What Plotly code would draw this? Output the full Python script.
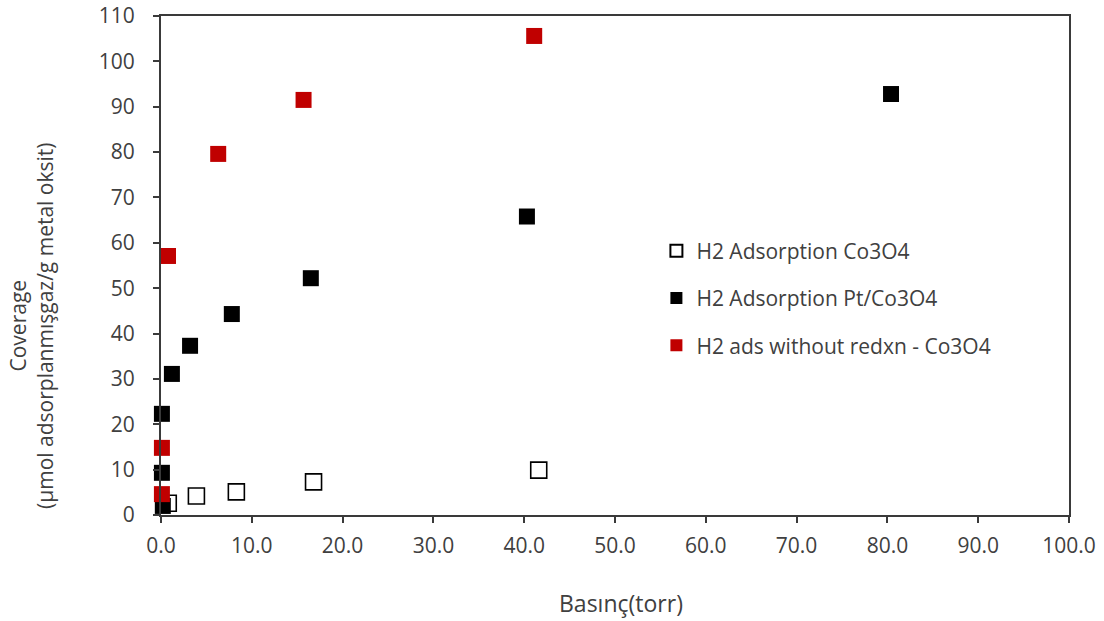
import plotly.graph_objects as go

# Pressure (torr) and H2 coverage (µmol adsorbed gas / g metal oxide)
co3o4_x = [0.8, 3.9, 8.3, 16.8, 41.6]
co3o4_y = [2.6, 4.2, 5.1, 7.3, 9.9]

pt_co3o4_x = [0.2, 0.1, 0.1, 1.2, 3.2, 7.8, 16.5, 40.3, 80.4]
pt_co3o4_y = [2.0, 9.3, 22.3, 31.1, 37.3, 44.3, 52.2, 65.8, 92.8]

noredxn_x = [0.1, 0.1, 0.77, 6.3, 15.7, 41.1]
noredxn_y = [4.6, 14.8, 57.1, 79.6, 91.5, 105.6]

series_names = [
    "H2 Adsorption Co3O4",
    "H2 Adsorption Pt/Co3O4",
    "H2 ads without redxn - Co3O4",
]

x_ticks = [0, 10, 20, 30, 40, 50, 60, 70, 80, 90, 100]
y_ticks = [0, 10, 20, 30, 40, 50, 60, 70, 80, 90, 100, 110]

x_title = "Basınç(torr)"
y_title = "Coverage<br>(µmol adsorplanmışgaz/g metal oksit)"

FONT = "Open Sans"
TEXT = "#404040"
AXIS = "#3a3a3a"

fig = go.Figure()

fig.add_trace(go.Scatter(
    x=co3o4_x, y=co3o4_y, mode="markers", name=series_names[0],
    legendgroup="a",
    marker=dict(symbol="square", size=16, color="white",
                line=dict(color="black", width=1.6)),
    cliponaxis=False,
))
fig.add_trace(go.Scatter(
    x=pt_co3o4_x, y=pt_co3o4_y, mode="markers", name=series_names[1],
    legendgroup="b",
    marker=dict(symbol="square", size=16, color="black",
                line=dict(color="black", width=0)),
    cliponaxis=False,
))
fig.add_trace(go.Scatter(
    x=noredxn_x, y=noredxn_y, mode="markers", name=series_names[2],
    legendgroup="c",
    marker=dict(symbol="square", size=16, color="#c00000",
                line=dict(color="#c00000", width=0)),
    cliponaxis=False,
))

axis_style = dict(
    automargin=False,
    showgrid=False, zeroline=False,
    showline=True, linecolor=AXIS, linewidth=2, mirror=True,
    ticks="outside", ticklen=6, tickcolor=AXIS, tickwidth=2,
    tickfont=dict(family=FONT, size=21, color=TEXT),
)

fig.update_layout(
    width=1104, height=621,
    margin=dict(l=161, r=35, t=16, b=106),
    paper_bgcolor="white", plot_bgcolor="white",
    font=dict(family=FONT, size=21, color=TEXT),
    showlegend=True,
    legend=dict(
        x=0.5456, y=0.57, xanchor="left", yanchor="top",
        bgcolor="rgba(0,0,0,0)", font=dict(family=FONT, size=21, color=TEXT),
        tracegroupgap=17, itemsizing="constant",
    ),
    xaxis=dict(range=[0, 100], tickvals=x_ticks, tickformat=".1f",
               ticklabelstandoff=5, **axis_style),
    yaxis=dict(range=[0, 110], tickvals=y_ticks,
               ticklabelstandoff=14, **axis_style),
    annotations=[
        # axis titles drawn as free text so they can sit off-center
        dict(text=x_title, xref="paper", yref="paper",
             x=0.507, y=-0.177, xanchor="center", yanchor="middle",
             showarrow=False, font=dict(family=FONT, size=23, color=TEXT)),
        dict(text=y_title, xref="paper", yref="paper", textangle=-90,
             x=-0.142, y=0.379, xanchor="center", yanchor="middle",
             showarrow=False, font=dict(family=FONT, size=21, color=TEXT)),
    ],
)

fig.write_html("out.html")
